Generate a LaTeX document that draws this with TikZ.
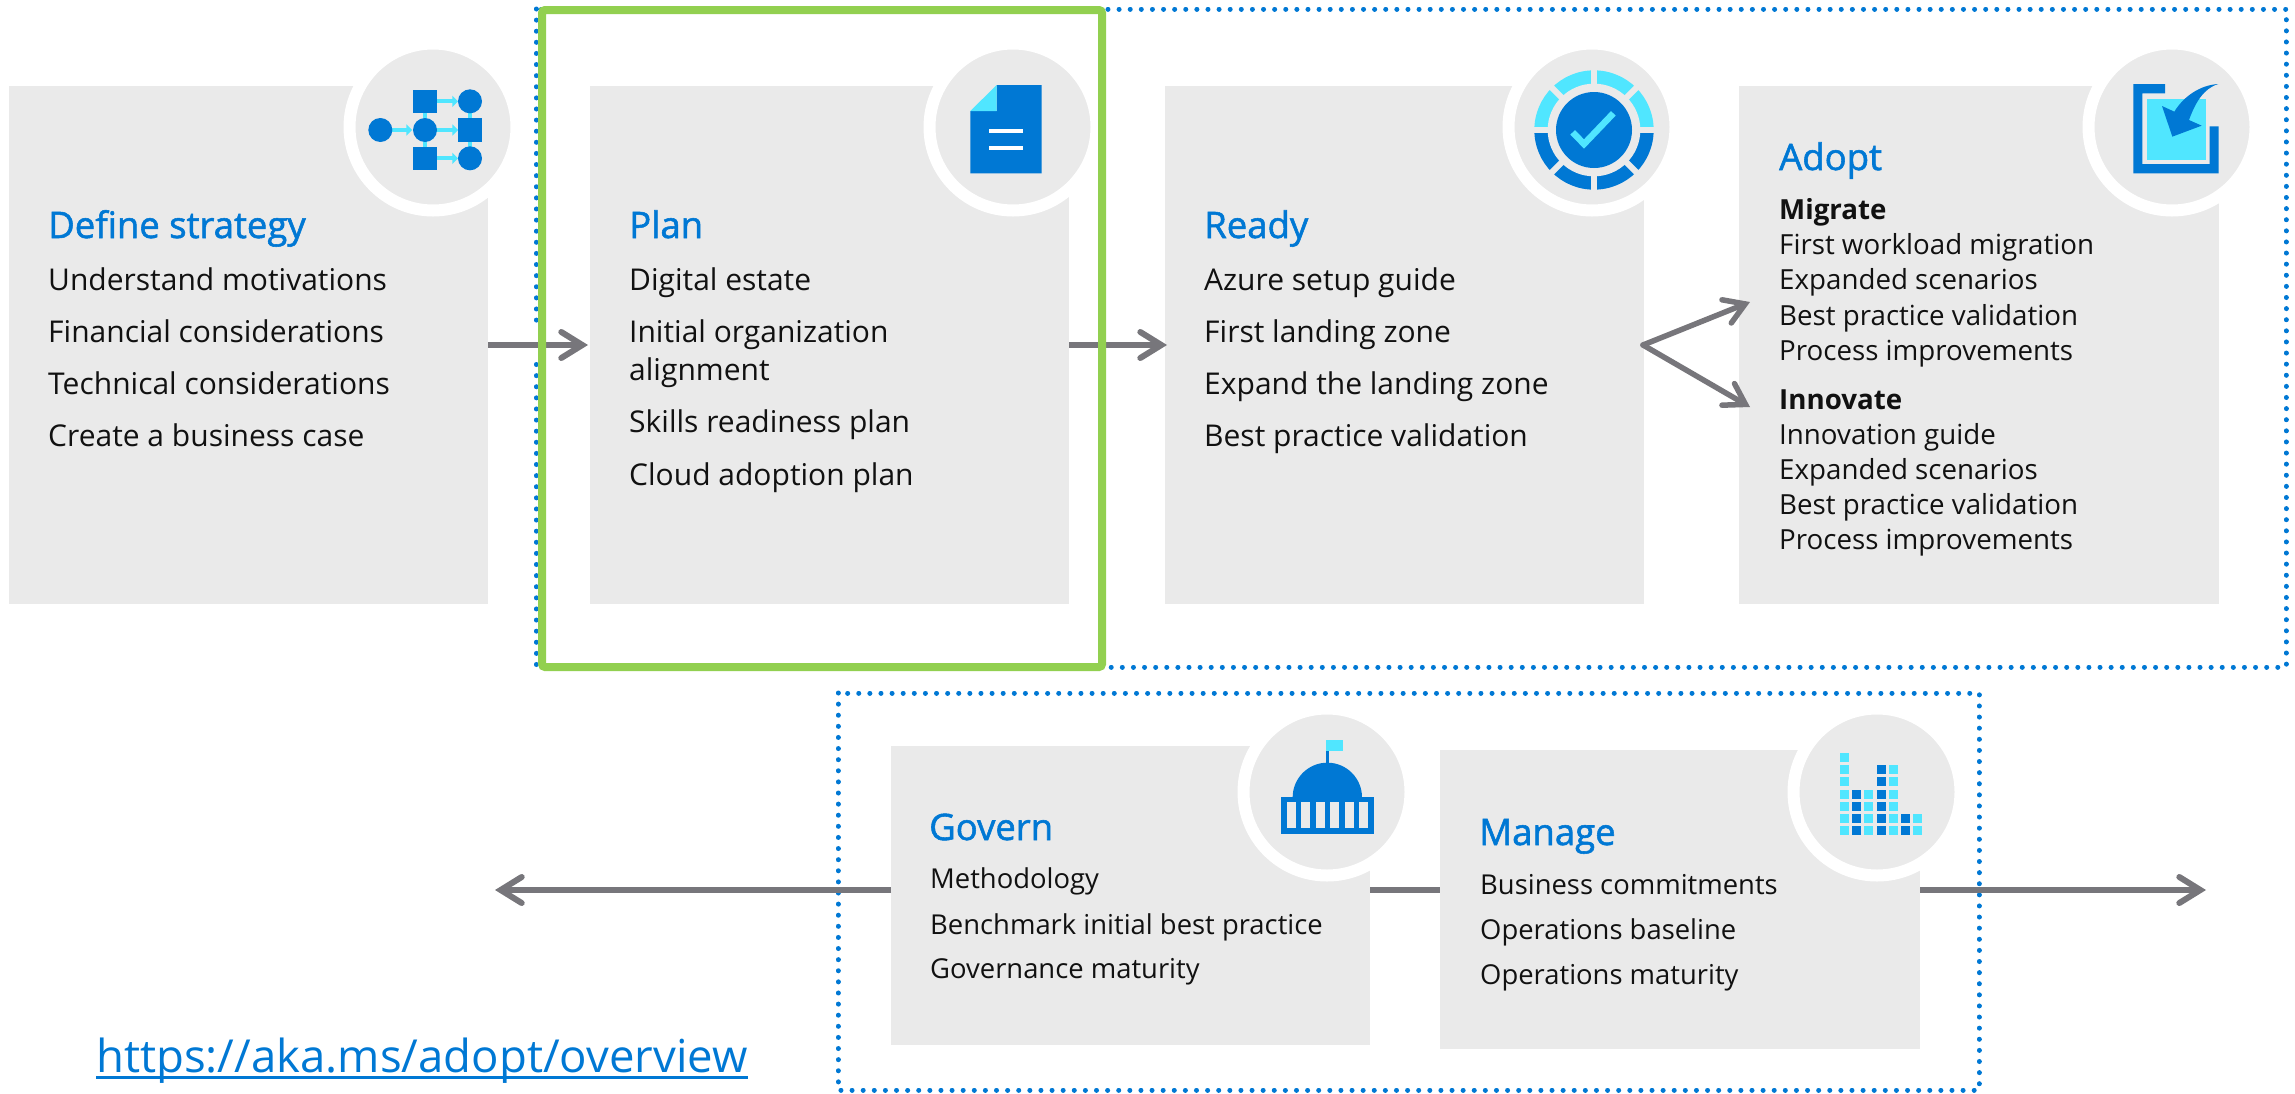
\documentclass[tikz,border=0pt]{standalone}
\usepackage{fontspec}
\setmainfont{Open Sans}
\usetikzlibrary{arrows.meta}
\definecolor{boxgray}{HTML}{EAEAEA}
\definecolor{azure}{HTML}{0078D4}
\definecolor{skyc}{HTML}{50E6FF}
\definecolor{leaf}{HTML}{92D050}
\definecolor{flowgray}{HTML}{77767B}
\definecolor{inkc}{HTML}{111111}
\newcommand{\bodyfont}{\fontsize{30}{36}\selectfont}
\newcommand{\smallfont}{\fontsize{27.7}{33}\selectfont}
\newcommand{\lowfont}{\fontsize{27.4}{33}\selectfont}
\newcommand{\headfont}{\fontsize{36.5}{42}\selectfont}
\tikzset{
  box/.style={fill=boxgray,anchor=north west,inner sep=0pt,outer sep=0pt,minimum width=#1},
  halo/.style={circle,fill=boxgray,draw=white,line width=12pt,minimum size=155pt+12pt,inner sep=0pt,outer sep=0pt},
  dotframe/.style={draw=azure,line width=5pt,line cap=round,dash pattern=on 0.01pt off 11.1pt},
  greenframe/.style={draw=leaf,line width=8pt,rounded corners=3pt},
  flow/.style={draw=flowgray,line width=6pt,-{Straight Barb[length=21pt,width=26pt,line cap=round,line join=miter]}},
  fork/.style={draw=flowgray,line width=5.5pt,line cap=round,-{Straight Barb[length=20pt,width=25pt,line cap=round,line join=miter]}},
  plainflow/.style={draw=flowgray,line width=6pt},
  head/.style={anchor=base west,inner sep=0pt,text=azure,font=\headfont\addfontfeature{FakeBold=1.5}},
  txt/.style={anchor=base west,inner sep=0pt,text=inkc,font=\bodyfont},
  ltxt/.style={anchor=base west,inner sep=0pt,text=inkc,font=\lowfont},
  stxt/.style={anchor=base west,inner sep=0pt,text=inkc,font=\smallfont},
  sbold/.style={anchor=base west,inner sep=0pt,text=inkc,font=\smallfont\bfseries},
  icon/.style={shift={(#1)},x=0.33333pt,y=-0.33333pt},
}
\begin{document}
\begin{tikzpicture}[x=1pt,y=-1pt]
\useasboundingbox (0,0) rectangle (2295,1093);
% dotted frames
\draw[dotframe] (536,9) rectangle (2286,667);
\draw[dotframe] (838,693) rectangle (1979,1090);
\fill[white] (530,323) rectangle (541,358);
% boxes
\node[box=479pt,minimum height=518pt] (define) at (9,86) {};
\node[box=479pt,minimum height=518pt] (plan) at (590,86) {};
\node[box=479pt,minimum height=518pt] (ready) at (1165,86) {};
\node[box=480pt,minimum height=518pt] (adopt) at (1739,86) {};
\node[box=479pt,minimum height=299pt] (govern) at (891,746) {};
\node[box=480pt,minimum height=299pt] (manage) at (1440,750) {};
% halos
\node[halo] (h1) at (433,127) {};
\node[halo] (h2) at (1013,127) {};
\node[halo] (h3) at (1592,127) {};
\node[halo] (h4) at (2172,127) {};
\node[halo] (h5) at (1327,792) {};
\node[halo] (h6) at (1877,792) {};
% connectors
\coordinate (axis) at (0,890);
\coordinate (forkstart) at (1643,345);
\coordinate (forkup) at (1750,302);
\coordinate (forkdown) at (1750,407);
\coordinate (leftend) at (495,890);
\coordinate (rightend) at (2206,890);
\draw[flow,shorten >=2pt] (define.east) -- (plan.west);
\draw[flow,shorten >=-2pt] (plan.east) -- (ready.west);
\draw[fork] (forkstart) -- (forkup);
\draw[fork] (forkstart) -- (forkdown);
\draw[flow] (govern.west |- axis) -- (leftend);
\draw[plainflow] (govern.east |- axis) -- (manage.west |- axis);
\draw[flow] (manage.east |- axis) -- (rightend);
% green frame
\draw[greenframe] (542,10) rectangle (1102,667);
% icon 1
\begin{scope}[icon={330,30}]
  \fill[skyc] (279,248) rectangle (292,351);
  \fill[skyc] (413,214) rectangle (425,385);
  \foreach \yy/\xa/\xb in {214/321/384,300/319/384,385/321/384,300/187/246}{
    \fill[skyc] (\xa,\yy-6) rectangle (\xb-14,\yy+6);
    \fill[skyc] (\xb-17,\yy-17) -- (\xb,\yy) -- (\xb-17,\yy+17) -- cycle;
  }
  \fill[azure] (151,300) circle[radius=36];
  \fill[azure] (285,300) circle[radius=36];
  \fill[azure] (420,214) circle[radius=36];
  \fill[azure] (420,385) circle[radius=36];
  \fill[azure] (249,180) rectangle (321,248);
  \fill[azure] (249,351) rectangle (321,420);
  \fill[azure] (384,264) rectangle (456,336);
\end{scope}
% icon 2
\begin{scope}[icon={910,40}]
  \fill[azure] (260,135) -- (395,135) -- (395,400) -- (181,400) -- (181,213) -- (260,213) -- cycle;
  \fill[skyc] (260,135) -- (260,213) -- (181,213) -- cycle;
  \fill[white] (237,268) rectangle (339,280);
  \fill[white] (237,319) rectangle (339,331);
\end{scope}
% icon 3
\begin{scope}[icon={1490,40}]
  \fill[skyc] (133,270) arc[start angle=180,end angle=360,radius=179] -- cycle;
  \fill[azure] (133,270) arc[start angle=180,end angle=0,radius=179] -- cycle;
  \fill[boxgray] (312,270) circle[radius=139];
  \foreach \aa in {0,45,90,135}{
    \draw[boxgray,line width=6pt] (312,270) ++(\aa:190) -- ++(\aa+180:380);
  }
  \fill[azure] (312,270) circle[radius=114];
  \draw[skyc,line width=6.5pt,miter limit=10] (248,277) -- (282,312) -- (370,220);
\end{scope}
% icon 4
\begin{scope}[icon={2070,40}]
  \fill[azure] (190,132) -- (285,132) -- (285,160) -- (217,160) -- (217,372) -- (419,372) -- (419,259) -- (446,259) -- (446,400) -- (190,400) -- cycle;
  \fill[skyc] (231,177) rectangle (408,360);
  \fill[azure] (445,132) .. controls (400,145) and (375,190) .. (357,240) -- (395,257) -- (307,290) -- (276,198) -- (313,215) .. controls (340,170) and (390,135) .. (445,132) -- cycle;
\end{scope}
% icon 5
\begin{scope}[icon={1230,700}]
  \fill[azure] (288,150) rectangle (297,190);
  \fill[skyc] (288,120) rectangle (339,153);
  \fill[azure] (188,292) arc[start angle=180,end angle=360,radius=104] -- cycle;
  \fill[azure] (153,290) rectangle (431,403);
  \foreach \xa/\xb in {170/197,214/241,257/284,301/328,344/371,388/414}{
    \fill[boxgray] (\xa,307) rectangle (\xb,385);
  }
\end{scope}
% icon 6
\begin{scope}[icon={1780,700}]
  \foreach \xx/\cc/\rows in {180/skyc/{159,195,231,270,306,342,378},216/azure/{270,306,342,378},252/skyc/{270,306,342,378},291/azure/{195,231,270,306,342,378},327/skyc/{195,231,270,306,342,378},363/azure/{342,378},399/skyc/{342,378}}{
    \foreach \yy in \rows {
      \fill[\cc] (\xx,\yy) rectangle (\xx+27,\yy+27);
    }
  }
\end{scope}
% text
\node[head] (t1) at (48,238) {Define strategy};
\node[txt] (t1a) at (48,290) {Understand motivations};
\node[txt] (t1b) at (48,342) {Financial considerations};
\node[txt] (t1c) at (48,394) {Technical considerations};
\node[txt] (t1d) at (48,446) {Create a business case};
\node[head] (t2) at (629,238) {Plan};
\node[txt] (t2a) at (629,290) {Digital estate};
\node[txt] (t2b) at (629,342) {Initial organization};
\node[txt] (t2c) at (629,380) {alignment};
\node[txt] (t2d) at (629,432) {Skills readiness plan};
\node[txt] (t2e) at (629,485) {Cloud adoption plan};
\node[head] (t3) at (1204,238) {Ready};
\node[txt] (t3a) at (1204,290) {Azure setup guide};
\node[txt] (t3b) at (1204,342) {First landing zone};
\node[txt] (t3c) at (1204,394) {Expand the landing zone};
\node[txt] (t3d) at (1204,446) {Best practice validation};
\node[head] (t4) at (1779,170) {Adopt};
\node[sbold] (t4a) at (1779,219) {Migrate};
\node[stxt] (t4b) at (1779,254) {First workload migration};
\node[stxt] (t4c) at (1779,289) {Expanded scenarios};
\node[stxt] (t4d) at (1779,325) {Best practice validation};
\node[stxt] (t4e) at (1779,360) {Process improvements};
\node[sbold] (t4f) at (1779,409) {Innovate};
\node[stxt] (t4g) at (1779,444) {Innovation guide};
\node[stxt] (t4h) at (1779,479) {Expanded scenarios};
\node[stxt] (t4i) at (1779,514) {Best practice validation};
\node[stxt] (t4j) at (1779,549) {Process improvements};
\node[head] (t5) at (929,840) {Govern};
\node[ltxt] (t5a) at (930,888) {Methodology};
\node[ltxt] (t5b) at (930,934) {Benchmark initial best practice};
\node[ltxt] (t5c) at (930,978) {Governance maturity};
\node[head] (t6) at (1479,845) {Manage};
\node[ltxt] (t6a) at (1480,894) {Business commitments};
\node[ltxt] (t6b) at (1480,939) {Operations baseline};
\node[ltxt] (t6c) at (1480,984) {Operations maturity};
\node[anchor=base west,inner sep=0pt,text=azure,font=\fontsize{45.5}{52}\selectfont] (link) at (96,1072) {https://aka.ms/adopt/overview};
\draw[azure,line width=3pt] ([yshift=-5pt]link.base west) -- ([yshift=-5pt]link.base east);
\end{tikzpicture}
\end{document}
